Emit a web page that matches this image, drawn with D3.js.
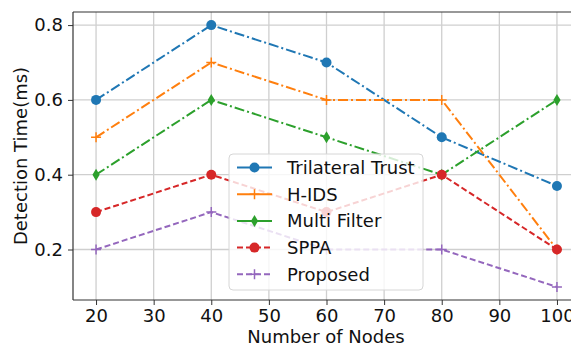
<!DOCTYPE html>
<html lang="en">
<head>
<meta charset="utf-8">
<title>Detection Time</title>
<script src="https://cdn.jsdelivr.net/npm/d3@7"></script>
<style>
  body { margin: 0; background: #fff; }
  svg { display: block; font-family: "DejaVu Sans", sans-serif; }
</style>
</head>
<body>
<script>
// data
var nodes = [20, 40, 60, 80, 100];
var trilateralTrust = [0.6, 0.8, 0.7, 0.5, 0.37];
var hIds = [0.5, 0.7, 0.6, 0.6, 0.2];
var multiFilter = [0.4, 0.6, 0.5, 0.4, 0.6];
var sppa = [0.3, 0.4, 0.3, 0.4, 0.2];
var proposed = [0.2, 0.3, 0.2, 0.2, 0.1];
var xTicks = [20, 30, 40, 50, 60, 70, 80, 90, 100];
var yTicks = [0.2, 0.4, 0.6, 0.8];

var series = [
  { name: "Trilateral Trust", values: trilateralTrust, color: "#1f77b4", dash: "10,3,2,3", marker: "circle" },
  { name: "H-IDS", values: hIds, color: "#ff7f0e", dash: "10,3,2,3", marker: "plus" },
  { name: "Multi Filter", values: multiFilter, color: "#2ca02c", dash: "10,3,2,3", marker: "thindiamond" },
  { name: "SPPA", values: sppa, color: "#d62728", dash: "6,3", marker: "circle" },
  { name: "Proposed", values: proposed, color: "#9467bd", dash: "6,3", marker: "plus" }
];

var w = 571, h = 350;
var mLeft = 73, mRight = 580, mTop = 12, mBottom = 300;
var fs = 18;

var svg = d3.select("body").append("svg").attr("width", w).attr("height", h);

var x = d3.scaleLinear().domain([16, 104]).range([mLeft, mRight]);
var y = d3.scaleLinear().domain([0.065, 0.835]).range([mBottom, mTop]);

// grid
svg.append("g").selectAll("line").data(xTicks).enter().append("line")
  .attr("x1", function(d) { return x(d); }).attr("x2", function(d) { return x(d); })
  .attr("y1", mTop).attr("y2", mBottom)
  .attr("stroke", "#cfcfcf").attr("stroke-width", 1.3);
svg.append("g").selectAll("line").data(yTicks).enter().append("line")
  .attr("y1", function(d) { return y(d); }).attr("y2", function(d) { return y(d); })
  .attr("x1", mLeft).attr("x2", mRight)
  .attr("stroke", "#cfcfcf").attr("stroke-width", 1.3);

// axes
var xAxis = svg.append("g").attr("transform", "translate(0," + mBottom + ")")
  .call(d3.axisBottom(x).tickValues(xTicks).tickSize(5).tickPadding(4).tickFormat(d3.format("d")));
var yAxis = svg.append("g").attr("transform", "translate(" + mLeft + ",0)")
  .call(d3.axisLeft(y).tickValues(yTicks).tickSize(5).tickPadding(5).tickFormat(d3.format(".1f")));
[xAxis, yAxis].forEach(function(a) {
  a.select(".domain").remove();
  a.selectAll("text").attr("font-size", fs).attr("fill", "#111").attr("font-family", "DejaVu Sans, sans-serif");
  a.selectAll("line").attr("stroke", "#333").attr("stroke-width", 1);
});

// spines
svg.append("line").attr("x1", mLeft).attr("x2", mLeft).attr("y1", mTop).attr("y2", mBottom).attr("stroke", "#333").attr("stroke-width", 1.2);
svg.append("line").attr("x1", mLeft).attr("x2", mRight).attr("y1", mBottom).attr("y2", mBottom).attr("stroke", "#333").attr("stroke-width", 1.2);
svg.append("line").attr("x1", mLeft).attr("x2", mRight).attr("y1", mTop).attr("y2", mTop).attr("stroke", "#333").attr("stroke-width", 1.2);

// axis titles
svg.append("text").attr("x", 326).attr("y", 343)
  .attr("text-anchor", "middle").attr("font-size", fs).attr("fill", "#111").text("Number of Nodes");
svg.append("text").attr("transform", "translate(27," + ((mTop + mBottom) / 2) + ") rotate(-90)")
  .attr("text-anchor", "middle").attr("font-size", fs).attr("fill", "#111").text("Detection Time(ms)");

function drawMarker(g, type, cx, cy, color) {
  if (type === "circle") {
    g.append("circle").attr("cx", cx).attr("cy", cy).attr("r", 5).attr("fill", color);
  } else if (type === "plus") {
    g.append("path").attr("d", "M" + (cx - 5) + "," + cy + "H" + (cx + 5) + "M" + cx + "," + (cy - 5) + "V" + (cy + 5))
      .attr("stroke", color).attr("stroke-width", 1.5).attr("fill", "none");
  } else {
    g.append("path").attr("d", "M" + cx + "," + (cy - 6) + "L" + (cx + 3.6) + "," + cy + "L" + cx + "," + (cy + 6) + "L" + (cx - 3.6) + "," + cy + "Z")
      .attr("fill", color);
  }
}

var line = d3.line().x(function(d, i) { return x(nodes[i]); }).y(function(d) { return y(d); });

series.forEach(function(s) {
  var g = svg.append("g");
  g.append("path").datum(s.values).attr("d", line)
    .attr("fill", "none").attr("stroke", s.color).attr("stroke-width", 2)
    .attr("stroke-dasharray", s.dash);
  s.values.forEach(function(v, i) { drawMarker(g, s.marker, x(nodes[i]), y(v), s.color); });
});

// legend
var lg = svg.append("g").attr("transform", "translate(229,154)");
lg.append("rect").attr("width", 194).attr("height", 136).attr("rx", 4)
  .attr("fill", "#fff").attr("fill-opacity", 0.8).attr("stroke", "#d6d6d6").attr("stroke-width", 1);
series.forEach(function(s, i) {
  var cy = 13.5 + i * 26.7;
  var e = lg.append("g");
  e.append("line").attr("x1", 8).attr("x2", 43).attr("y1", cy).attr("y2", cy)
    .attr("stroke", s.color).attr("stroke-width", 2)
    .attr("stroke-dasharray", s.dash === "6,3" ? "6,3" : null);
  drawMarker(e, s.marker, 25.5, cy, s.color);
  e.append("text").attr("x", 58).attr("y", cy).attr("dy", "0.35em")
    .attr("font-size", fs).attr("fill", "#111").text(s.name);
});
</script>
</body>
</html>
